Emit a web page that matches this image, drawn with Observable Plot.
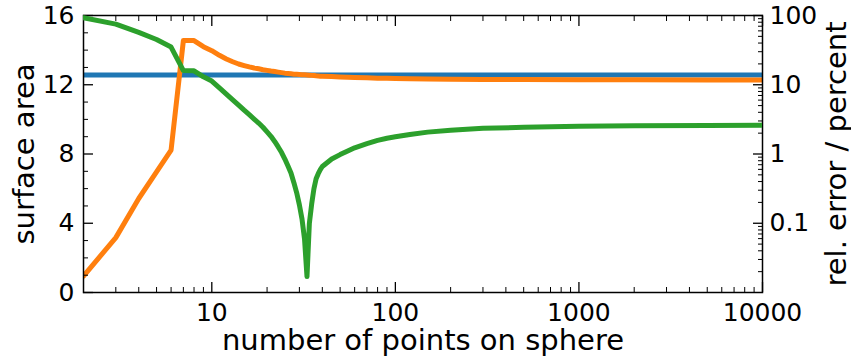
<!DOCTYPE html>
<html>
<head>
<meta charset="utf-8">
<script src="https://cdn.jsdelivr.net/npm/d3@7"></script>
<script src="https://cdn.jsdelivr.net/npm/@observablehq/plot@0.6"></script>
<style>
  body { margin: 0; background: #fff; }
  #chart { position: relative; width: 851px; height: 362px; }
  #chart svg { position: absolute; left: 0; top: 0; }
</style>
</head>
<body>
<div id="chart"></div>
<script>
// ---- data ----
const points = [2, 3, 4, 5, 6, 7, 8, 9, 10, 11, 12, 13, 14, 15, 16, 17, 18, 19, 20, 21, 22, 23, 24, 25, 26, 27, 28, 29, 30, 31, 32, 33, 34, 35, 36, 37, 38, 39, 40, 45, 50, 55, 60, 70, 80, 90, 100, 120, 150, 200, 300, 500, 1000, 2000, 5000, 10000];
const surfaceArea = [0.95, 3.17, 5.43, 6.97, 8.23, 14.55, 14.55, 14.2, 13.97, 13.7, 13.49, 13.33, 13.2, 13.11, 13.03, 12.97, 12.92, 12.87, 12.83, 12.79, 12.76, 12.73, 12.7, 12.67, 12.65, 12.63, 12.61, 12.6, 12.59, 12.58, 12.573, 12.566, 12.553, 12.542, 12.53, 12.515, 12.505, 12.495, 12.49, 12.47, 12.45, 12.435, 12.42, 12.4, 12.38, 12.37, 12.36, 12.35, 12.335, 12.32, 12.31, 12.3, 12.29, 12.285, 12.28, 12.28];
const relErrorPercent = [93, 75, 57, 45, 35, 16.0, 15.9, 13.0, 11.3, 9.03, 7.34, 6.06, 5.08, 4.29, 3.69, 3.2, 2.8, 2.43, 2.09, 1.8, 1.52, 1.265, 1.05, 0.845, 0.67, 0.53, 0.385, 0.275, 0.184, 0.115, 0.059, 0.017, 0.1, 0.19, 0.315, 0.44, 0.52, 0.595, 0.66, 0.845, 0.98, 1.106, 1.23, 1.41, 1.57, 1.69, 1.77, 1.91, 2.07, 2.2, 2.35, 2.43, 2.51, 2.55, 2.57, 2.6];
const exactArea = [12.566];

const xMajorTicks = [10, 100, 1000, 10000];
const xMinorTicks = [3, 4, 5, 6, 7, 8, 9, 20, 30, 40, 50, 60, 70, 80, 90, 200, 300, 400, 500, 600, 700, 800, 900, 2000, 3000, 4000, 5000, 6000, 7000, 8000, 9000];
const leftMajorTicks = [0, 4, 8, 12, 16];
const leftMinorTicks = [1, 2, 3, 5, 6, 7, 9, 10, 11, 13, 14, 15];
const rightMajorTicks = [0.1, 1, 10, 100];
const rightMinorTicks = [0.02, 0.03, 0.04, 0.05, 0.06, 0.07, 0.08, 0.09, 0.2, 0.3, 0.4, 0.5, 0.6, 0.7, 0.8, 0.9, 2, 3, 4, 5, 6, 7, 8, 9, 20, 30, 40, 50, 60, 70, 80, 90];

const xLabel = "number of points on sphere";
const leftLabel = "surface area";
const rightLabel = "rel. error / percent";

// ---- tables ----
const areaData = points.map((n, i) => ({n, v: surfaceArea[i]}));
const errData = points.map((n, i) => ({n, v: relErrorPercent[i]}));

const common = {
  width: 851, height: 362,
  marginLeft: 83, marginRight: 89, marginTop: 15, marginBottom: 70,
  style: {fontFamily: "DejaVu Sans", fontSize: "25px", color: "black", background: "transparent", overflow: "visible"}
};
const blank = () => "";

const p1 = Plot.plot({
  ...common,
  x: {type: "log", domain: [2, 10000], label: null},
  y: {domain: [0, 16], label: null},
  marks: [
    Plot.ruleY(exactArea, {stroke: "#1f77b4", strokeWidth: 5}),
    Plot.line(areaData, {x: "n", y: "v", stroke: "#ff7f0e", strokeWidth: 5, strokeLinejoin: "round", clip: true}),
    Plot.axisX(xMajorTicks, {anchor: "bottom", tickSize: -10, tickPadding: 21, strokeWidth: 1.3, tickFormat: d => String(d), label: null}),
    Plot.axisX(xMinorTicks, {anchor: "bottom", tickSize: -5, strokeWidth: 1, tickFormat: blank, label: null}),
    Plot.axisX(xMajorTicks, {anchor: "top", tickSize: -10, strokeWidth: 1.3, tickFormat: blank, label: null}),
    Plot.axisX(xMinorTicks, {anchor: "top", tickSize: -5, strokeWidth: 1, tickFormat: blank, label: null}),
    Plot.axisY(leftMajorTicks, {anchor: "left", tickSize: -10, tickPadding: 19, strokeWidth: 1.3, tickFormat: d => String(d), label: null}),
    Plot.axisY(leftMinorTicks, {anchor: "left", tickSize: -5, strokeWidth: 1, tickFormat: blank, label: null}),
    Plot.frame({stroke: "black", strokeWidth: 1.5}),
    Plot.text([xLabel], {frameAnchor: "bottom", dy: 48, text: d => d, fontSize: 29, lineAnchor: "middle", textAnchor: "middle"}),
    Plot.text([leftLabel], {frameAnchor: "left", dx: -59, text: d => d, fontSize: 29, rotate: -90, lineAnchor: "middle", textAnchor: "middle"})
  ]
});

const p2 = Plot.plot({
  ...common,
  x: {type: "log", domain: [2, 10000], axis: null, label: null},
  y: {type: "log", domain: [0.01, 100], label: null},
  marks: [
    Plot.line(errData, {x: "n", y: "v", stroke: "#2ca02c", strokeWidth: 5, strokeLinejoin: "round", clip: true}),
    Plot.axisY(rightMajorTicks, {anchor: "right", tickSize: -10, tickPadding: 17, strokeWidth: 1.3, tickFormat: d => String(d), label: null}),
    Plot.axisY(rightMinorTicks, {anchor: "right", tickSize: -5, strokeWidth: 1, tickFormat: blank, label: null}),
    Plot.text([rightLabel], {frameAnchor: "right", dx: 74.5, text: d => d, fontSize: 29, rotate: -90, lineAnchor: "middle", textAnchor: "middle"})
  ]
});

const root = document.getElementById("chart");
root.appendChild(p1);
root.appendChild(p2);
</script>
</body>
</html>
